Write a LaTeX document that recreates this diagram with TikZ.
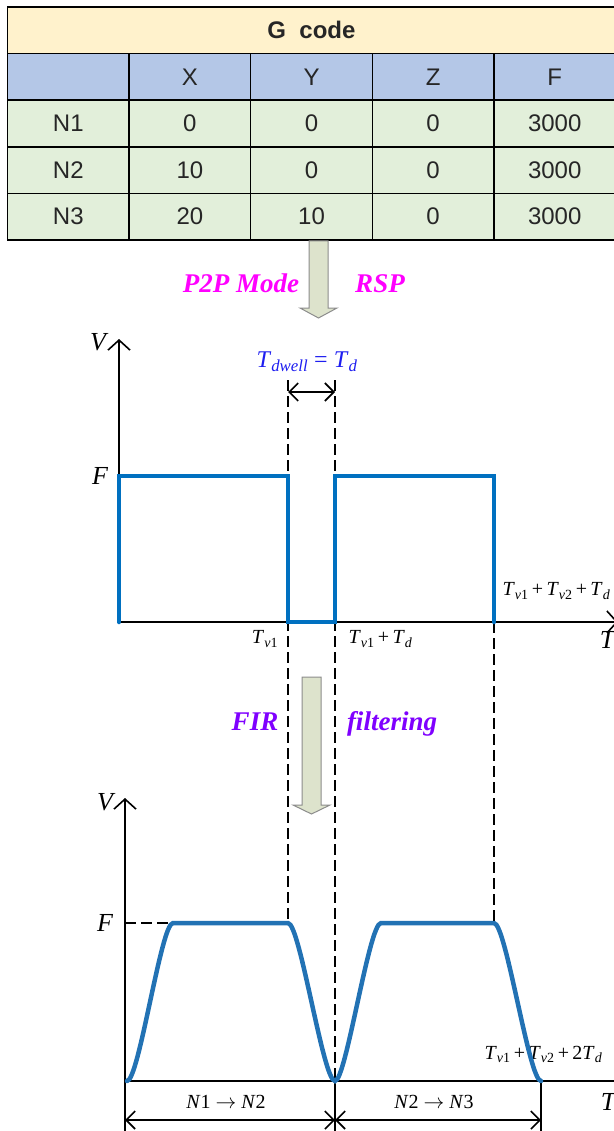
\documentclass[tikz,border=0pt]{standalone}
\usepackage{fontspec}
\setmainfont{Liberation Serif}
\newfontfamily\tablefont{Liberation Sans}
\usetikzlibrary{arrows.meta}
\definecolor{titlefill}{HTML}{FFF2CC}
\definecolor{headfill}{HTML}{B4C7E7}
\definecolor{rowfill}{HTML}{E2EFDA}
\definecolor{arrowfill}{HTML}{DDE3CC}
\definecolor{arrowedge}{HTML}{8C8C8C}
\definecolor{stepblue}{HTML}{0070C0}
\definecolor{firblue}{HTML}{2272B4}
\definecolor{dwellblue}{HTML}{1E1EF0}
\definecolor{modemagenta}{HTML}{FF00FF}
\definecolor{firviolet}{HTML}{7F00FF}
\newcommand{\Tv}[1]{\textit{T}\textsubscript{\textit{v}#1}}
\newcommand{\Td}{\textit{T}\textsubscript{\textit{d}}}

\begin{document}
\begin{tikzpicture}[x=1pt,y=-1pt,
  cell/.style={draw, line width=1.5pt, minimum width=121.6pt, minimum height=46.6pt, inner sep=0pt, text=black!85, font=\tablefont\fontsize{24}{28}\selectfont},
  axis/.style={black, line width=1.6pt, -{Straight Barb[length=10pt,width=22pt]}},
  guide/.style={black, line width=1.7pt, dash pattern=on 11pt off 5pt},
  barb/.style={black, line width=1.6pt, {Straight Barb[length=9pt,width=18pt]}-{Straight Barb[length=9pt,width=18pt]}},
  lbl/.style={font=\fontsize{20}{24}\selectfont},
  big/.style={font=\fontsize{26}{30}\selectfont\itshape},
  tag/.style={anchor=base, font=\fontsize{27}{30}\selectfont\bfseries\itshape},
  blockarrow/.style={fill=arrowfill, draw=arrowedge, line width=1pt}]
\useasboundingbox (0,0) rectangle (613,1131);
\node[cell, fill=titlefill, minimum width=608pt, font=\tablefont\fontsize{24}{28}\selectfont\bfseries] (title) at (311.5,30.3) {G~~code};
\node[cell, fill=headfill] (h0) at (68.3,76.9) {};
\node[cell, fill=headfill] (hx) at (189.9,76.9) {X};
\node[cell, fill=headfill] (hy) at (311.5,76.9) {Y};
\node[cell, fill=headfill] (hz) at (433.1,76.9) {Z};
\node[cell, fill=headfill] (hf) at (554.7,76.9) {F};
\node[cell, fill=rowfill] (n1) at (68.3,123.5) {N1};
\node[cell, fill=rowfill] (n1x) at (189.9,123.5) {0};
\node[cell, fill=rowfill] (n1y) at (311.5,123.5) {0};
\node[cell, fill=rowfill] (n1z) at (433.1,123.5) {0};
\node[cell, fill=rowfill] (n1f) at (554.7,123.5) {3000};
\node[cell, fill=rowfill] (n2) at (68.3,170.1) {N2};
\node[cell, fill=rowfill] (n2x) at (189.9,170.1) {10};
\node[cell, fill=rowfill] (n2y) at (311.5,170.1) {0};
\node[cell, fill=rowfill] (n2z) at (433.1,170.1) {0};
\node[cell, fill=rowfill] (n2f) at (554.7,170.1) {3000};
\node[cell, fill=rowfill] (n3) at (68.3,216.7) {N3};
\node[cell, fill=rowfill] (n3x) at (189.9,216.7) {20};
\node[cell, fill=rowfill] (n3y) at (311.5,216.7) {10};
\node[cell, fill=rowfill] (n3z) at (433.1,216.7) {0};
\node[cell, fill=rowfill] (n3f) at (554.7,216.7) {3000};
\filldraw[blockarrow] (309,241) -- (328,241) -- (328,308) -- (337,308) -- (318.5,318) -- (300,308) -- (309,308) -- cycle;
\node[tag, text=modemagenta] (p2p) at (241,293) {P2P Mode};
\node[tag, text=modemagenta] (rsp) at (380,293) {RSP};
\draw[guide] (288,380) -- (288,923);
\draw[guide] (335,380) -- (335,1081);
\draw[guide] (494,622) -- (494,923);
\draw[axis] (119,622) -- (119,339);
\draw[axis] (119,622) -- (618,622);
\draw[barb] (288,392) -- (335,392);
\draw[stepblue, line width=4.5pt, line cap=round] (119,622) -- (119,476) -- (288,476) -- (288,622) -- (335,622) -- (335,476) -- (494,476) -- (494,622);
\node[big] (v1) at (98,342) {V};
\node[big] (f1) at (100,476) {F};
\node[big] (t1) at (607,640) {T};
\node[lbl, text=dwellblue, font=\fontsize{24}{28}\selectfont] (dwell) at (307,362) {\textit{T}\textsubscript{\textit{dwell}} = \Td};
\node[lbl] (tv1) at (265,639) {\Tv{1}};
\node[lbl, anchor=west] (tv1d) at (345,639) {\Tv{1}\,+\,\Td};
\node[lbl, anchor=west] (tsum1) at (499,591) {\Tv{1}\,+\,\Tv{2}\,+\,\Td};
\filldraw[blockarrow] (302,677) -- (321,677) -- (321,805) -- (330,805) -- (311.5,814) -- (293,805) -- (302,805) -- cycle;
\node[tag, text=firviolet] (fir) at (255,730) {FIR};
\node[tag, text=firviolet] (filt) at (392,730) {filtering};
\draw[axis] (125,1081) -- (125,798);
\draw[axis] (125,1081) -- (630,1081);
\draw[guide] (125,923) -- (173,923);
\draw[black, line width=1.6pt] (125,1081) -- (125,1131);
\draw[black, line width=1.6pt] (335,1081) -- (335,1131);
\draw[black, line width=1.6pt] (541,1081) -- (541,1131);
\draw[barb] (125,1120) -- (335,1120);
\draw[barb] (335,1120) -- (541,1120);
\node[big] (v2) at (105,802) {V};
\node[big] (f2) at (105,923) {F};
\node[big] (t2) at (608,1102) {T};
\node[lbl] (seg1) at (226,1102) {\textit{N}1 $\rightarrow$ \textit{N}2};
\node[lbl] (seg2) at (434,1102) {\textit{N}2 $\rightarrow$ \textit{N}3};
\node[lbl, anchor=west] (tsum2) at (481,1054) {\Tv{1}\,+\,\Tv{2}\,+\,2\Td};
\draw[firblue, line width=4.5pt, line cap=round] (127,1081) .. controls (139,1081) and (161,923) .. (173,923) -- (288,923) .. controls (300,923) and (323,1081) .. (335,1081) .. controls (346,1081) and (369,923) .. (381,923) -- (494,923) .. controls (506,923) and (529,1081) .. (541,1081);
\end{tikzpicture}
\end{document}
